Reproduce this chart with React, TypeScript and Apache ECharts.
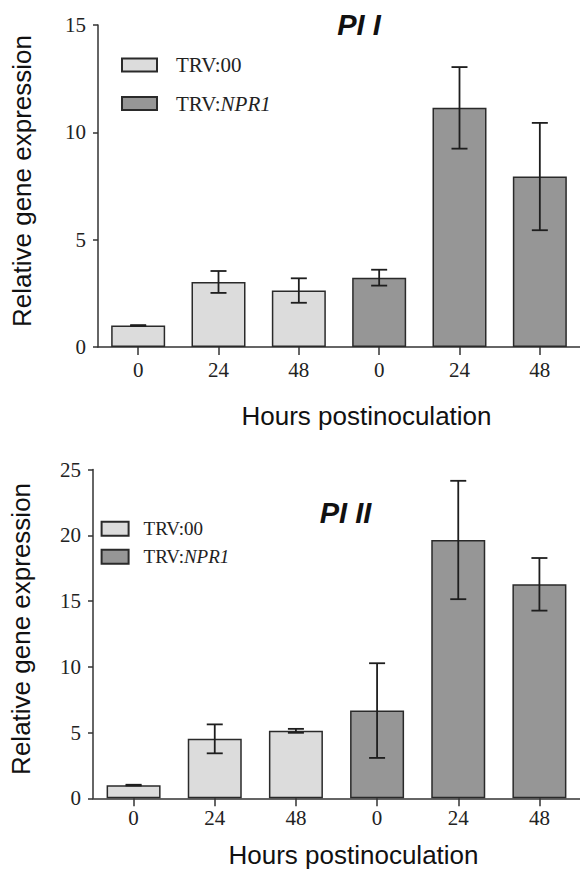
import React, { useEffect, useRef } from "react";
import * as echarts from "echarts";

const hours = ["0", "24", "48", "0", "24", "48"];
const groupNames = ["TRV:00", "TRV:NPR1"];

// Chart PI I
const pi1Control = [1.0, 3.03, 2.63, null, null, null];
const pi1Npr1 = [null, null, null, 3.23, 11.14, 7.94];
const pi1Err = [0.02, 0.51, 0.57, 0.37, 1.9, 2.5];

// Chart PI II
const pi2Control = [1.0, 4.52, 5.13, null, null, null];
const pi2Npr1 = [null, null, null, 6.67, 19.64, 16.27];
const pi2Err = [0.03, 1.1, 0.15, 3.6, 4.5, 2.0];

const yTicks1 = { min: 0, max: 15, interval: 5 };
const yTicks2 = { min: 0, max: 25, interval: 5 };

const SERIF = "'Liberation Serif', 'Times New Roman', serif";
const SANS = "'Liberation Sans', Arial, sans-serif";
const LIGHT = "#dcdcdc";
const DARK = "#969696";
const EDGE = "#2a2a2a";

function errData(a: (number | null)[], b: (number | null)[], e: number[]) {
  return hours.map((_, i) => {
    const m = (a[i] ?? b[i]) as number;
    return [i, m - e[i], m + e[i]];
  });
}

function renderErr(params: any, api: any) {
  const x = api.value(0);
  const lo = api.coord([x, api.value(1)]);
  const hi = api.coord([x, api.value(2)]);
  const half = 8;
  const style = { stroke: "#1e1e1e", lineWidth: 1.8 };
  return {
    type: "group",
    children: [
      { type: "line", shape: { x1: lo[0], y1: lo[1], x2: hi[0], y2: hi[1] }, style },
      { type: "line", shape: { x1: hi[0] - half, y1: hi[1], x2: hi[0] + half, y2: hi[1] }, style },
      { type: "line", shape: { x1: lo[0] - half, y1: lo[1], x2: lo[0] + half, y2: lo[1] }, style },
    ],
  };
}

export default function App() {
  const ref = useRef<HTMLDivElement>(null);
  useEffect(() => {
    if (!ref.current) return;
    const chart = echarts.init(ref.current, null, { renderer: "svg" });

    const axisLine = { show: true, lineStyle: { color: "#333", width: 1.5 } };
    const mkX = (gridIndex: number, margin: number, nameGap: number, padLeft: number) => ({
      type: "category",
      gridIndex,
      data: hours,
      axisLine,
      axisTick: { show: true, alignWithLabel: true, length: 8, lineStyle: { color: "#333", width: 1.5 } },
      axisLabel: { fontFamily: SERIF, fontSize: 21, color: "#222", margin },
      name: "Hours postinoculation",
      nameLocation: "middle",
      nameGap,
      nameTextStyle: { fontFamily: SANS, fontSize: 26, color: "#111", padding: [0, 0, 0, padLeft] },
    });
    const mkY = (gridIndex: number, t: any, nameGap: number) => ({
      type: "value",
      gridIndex,
      min: t.min,
      max: t.max,
      interval: t.interval,
      axisLine,
      axisTick: { show: true, length: 5, lineStyle: { color: "#333", width: 1.5 } },
      splitLine: { show: false },
      axisLabel: { fontFamily: SERIF, fontSize: 21, color: "#222", margin: 12 },
      name: "Relative gene expression",
      nameLocation: "middle",
      nameGap,
      nameTextStyle: { fontFamily: SANS, fontSize: 26, color: "#111", padding: [0, 0, 0, 10] },
    });

    const barSeries = (name: string, data: any[], color: string, idx: number) => ({
      type: "bar",
      name,
      xAxisIndex: idx,
      yAxisIndex: idx,
      data: data.map((v) => (v === null ? "-" : v)),
      barWidth: 54,
      barGap: "-100%",
      itemStyle: { color, borderColor: EDGE, borderWidth: 1.5 },
    });
    const errSeries = (data: any[], idx: number) => ({
      type: "custom",
      xAxisIndex: idx,
      yAxisIndex: idx,
      data,
      renderItem: renderErr,
      encode: { x: 0, y: [1, 2] },
      z: 10,
      silent: true,
    });

    const legendFormatter = (n: string) => (n === "TRV:NPR1" ? "TRV:{i|NPR1}" : n);
    const mkLegend = (left: number, top: number, w: number, h: number, fs: number, gap: number, pad: number) => ({
      data: groupNames,
      orient: "vertical",
      left,
      top,
      itemWidth: w,
      itemHeight: h,
      itemGap: gap,
      icon: "rect",
      selectedMode: false,
      padding: 0,
      formatter: legendFormatter,
      textStyle: {
        fontFamily: SERIF,
        fontSize: fs,
        lineHeight: fs,
        color: "#222",
        padding: [0, 0, 0, pad],
        rich: { i: { fontFamily: SERIF, fontSize: fs, lineHeight: fs, fontStyle: "italic", color: "#222" } },
      },
    });

    chart.setOption({
      animation: false,
      backgroundColor: "#fff",
      grid: [
        { left: 98, top: 25, width: 484, height: 322, containLabel: false },
        { left: 93, top: 469.5, width: 490, height: 328.8, containLabel: false },
      ],
      xAxis: [mkX(0, 12, 56, 55), mkX(1, 9, 44, 34)],
      yAxis: [mkY(0, yTicks1, 63), mkY(1, yTicks2, 59)],
      legend: [
        mkLegend(121, 54.5, 35, 13, 21, 17.5, 14),
        mkLegend(100.6, 519.2, 27, 14, 19, 9, 10),
      ],
      graphic: [
        {
          type: "text",
          x: 359,
          y: 25,
          style: { text: "PI I", font: `italic bold 29px ${SANS}`, fill: "#111", align: "center", verticalAlign: "middle" },
        },
        {
          type: "text",
          x: 345.5,
          y: 512.5,
          style: { text: "PI II", font: `italic bold 29px ${SANS}`, fill: "#111", align: "center", verticalAlign: "middle" },
        },
      ],
      series: [
        barSeries(groupNames[0], pi1Control, LIGHT, 0),
        barSeries(groupNames[1], pi1Npr1, DARK, 0),
        errSeries(errData(pi1Control, pi1Npr1, pi1Err), 0),
        barSeries(groupNames[0], pi2Control, LIGHT, 1),
        barSeries(groupNames[1], pi2Npr1, DARK, 1),
        errSeries(errData(pi2Control, pi2Npr1, pi2Err), 1),
      ],
    });
    return () => chart.dispose();
  }, []);
  return (
    <div
      ref={ref}
      style={{ position: "absolute", left: 0, top: 0, width: 580, height: 871, background: "#fff" }}
    />
  );
}
